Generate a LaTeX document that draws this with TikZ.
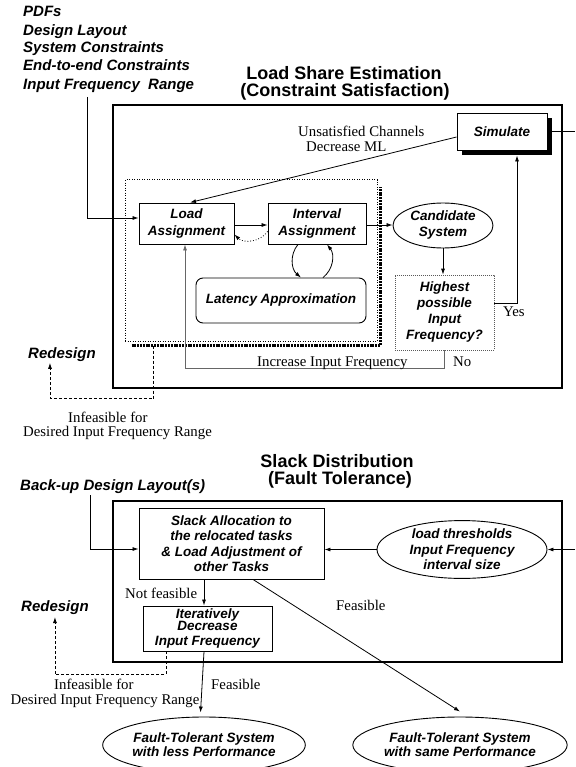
\documentclass[tikz,border=0pt]{standalone}
\usepackage{fontspec}
\setmainfont{Liberation Serif}
\setsansfont{Liberation Sans}
\usetikzlibrary{arrows.meta,shapes.geometric,shadows}

\tikzset{
  lbl/.style={font=\sffamily\bfseries\itshape\fontsize{13.5}{15.5}\selectfont, align=center, inner sep=0pt},
  big/.style={font=\sffamily\bfseries\itshape\fontsize{15}{18}\selectfont, inner sep=0pt, anchor=base west},
  ttl/.style={font=\sffamily\bfseries\fontsize{18}{18}\selectfont, inner sep=0pt, anchor=base},
  txt/.style={font=\fontsize{14.8}{15}\selectfont, inner sep=0pt, anchor=base west},
  box/.style={lbl, draw, line width=0.9pt},
  oval/.style={lbl, draw, ellipse, line width=0.9pt},
  frame/.style={draw, line width=2.6pt},
  conn/.style={line width=0.8pt},
  arr/.style={conn, -{Latex[length=6pt,width=4pt]}},
  dasharr/.style={arr, dash pattern=on 3pt off 2pt},
}

\begin{document}
\begin{tikzpicture}[x=1pt,y=-1pt]
\useasboundingbox (0,0) rectangle (575,767);

% ---------- inputs of the first stage ----------
\node[big] (in1) at (23,17) {PDFs};
\node[big] (in2) at (23,35.5) {Design Layout};
\node[big] (in3) at (23,53) {System Constraints};
\node[big] (in4) at (23,71) {End-to-end Constraints};
\node[big] (in5) at (23,90) {Input Frequency\ \ Range};
\coordinate (inp) at (87,97);

% ---------- load share estimation ----------
\node[ttl] (t1a) at (344,80) {Load Share Estimation};
\node[ttl] (t1b) at (345,96.5) {(Constraint Satisfaction)};
\draw[frame] (113,105) rectangle (562,388);

\node[box, fill=white, minimum width=90pt, minimum height=37pt,
      drop shadow={shadow xshift=5pt, shadow yshift=-5pt, fill=black, opacity=1}] (sim) at (502,131.5) {Simulate};
\coordinate (simout) at (575,131.5);

\node[txt] (uns) at (298,136.7) {Unsatisfied Channels};
\node[txt] (dml) at (306,151.7) {Decrease ML};

% iteration group with its hatched shadow
\node[draw, line width=1pt, dash pattern=on 1pt off 1.5pt, minimum width=252pt, minimum height=161pt, inner sep=0pt] (grp) at (251,260.5) {};
\draw[line width=3pt, dash pattern=on 2pt off 0.8pt]
  ([xshift=7pt,yshift=-3.5pt]grp.south west) -| ([xshift=3pt,yshift=-8pt]grp.north east);

\node[box, minimum width=95pt, minimum height=41pt] (load) at (186.5,223.5) {Load\\[1pt]Assignment};
\node[box, minimum width=98pt, minimum height=41pt] (intv) at (317,223.5) {Interval\\[1pt]Assignment};
\node[box, rounded corners=7pt, minimum width=170pt, minimum height=45pt] (lat) at (281,300.5) {Latency Approximation};
\node[oval, minimum width=100pt, minimum height=45pt] (cand) at (443,225.5) {Candidate\\[0.5pt]System};
\node[lbl, draw=black!65, line width=0.7pt, dash pattern=on 0.8pt off 1.2pt, minimum width=99pt, minimum height=75pt] (high) at (444.5,312.5) {Highest\\[0.5pt]possible\\[0.5pt]Input\\[0.5pt]Frequency?};

% connectors of the first stage
\draw[arr] (inp) |- ([yshift=5.5pt]load.west);
\draw[arr] ([yshift=-1.5pt]load.east) -- ([yshift=-1.5pt]intv.west);
\draw[arr, dotted] ([yshift=-8pt]intv.west) to[bend left=50] ([yshift=-11pt]load.east);
\draw[arr] ([xshift=-19pt]intv.south) to[bend right=45] ([xshift=20pt]lat.north);
\draw[arr] ([xshift=42pt]lat.north) to[bend right=45] ([xshift=10pt]intv.south);
\draw[arr] ([yshift=-1.5pt]intv.east) -- ([yshift=-1.5pt]intv.east -| cand.west);
\draw[arr] (cand.south) -- (cand.south |- high.north);
\draw[arr] ([yshift=9.5pt]high.east) -| ([xshift=15pt,yshift=-5pt]sim.south);
\draw[arr, draw=black!60] (high.south) -- ++(0,18) -| ([xshift=-1.5pt]load.south);
\draw[arr] ([yshift=-5.5pt]sim.west) -- ([xshift=3.5pt]load.north);
\draw[conn] (sim.east) -- (simout);

\node[txt] (yes) at (503,316) {Yes};
\node[txt] (incr) at (257,366) {Increase Input Frequency};
\node[txt] (no) at (453,366) {No};

\node[big] (red1) at (28,358) {Redesign};
\draw[dasharr] ([xshift=29pt,yshift=-4pt]grp.south west) -- ++(0,53) -| ([xshift=-12pt,yshift=-1.5pt]red1.south);
\node[txt] (inf1) at (68,422) {Infeasible for};
\node[txt] (des1) at (23,436) {Desired Input Frequency Range};

% ---------- slack distribution ----------
\node[ttl] (t2a) at (337,467) {Slack Distribution};
\node[ttl] (t2b) at (340,484.5) {(Fault Tolerance)};
\node[big] (bu) at (20,490) {Back-up Design Layout(s)};
\coordinate (bsrc) at (90,495);
\draw[frame] (113,501) rectangle (562,662);

\node[box, minimum width=185pt, minimum height=71pt] (slack) at (231.5,543.5)
  {Slack Allocation to\\the relocated tasks\\\& Load Adjustment of\\other Tasks};
\node[oval, minimum width=170pt, minimum height=55pt] (thr) at (462,549.5)
  {load thresholds\\Input Frequency\\interval size};
\coordinate (thrsrc) at (575,549.5);
\node[box, minimum width=129pt, minimum height=45pt] (iter) at (207.5,628.5)
  {Iteratively\\[-2.8pt]Decrease\\[-0.5pt]Input Frequency};

\node[oval, minimum width=166pt, minimum height=56pt] (ftl) at (204,745)
  {Fault-Tolerant System\\[-1.5pt]with less Performance};
\node[oval, minimum width=166pt, minimum height=56pt] (fts) at (460,745)
  {Fault-Tolerant System\\[-1.5pt]with same Performance};

\draw[arr] (bsrc) |- ([yshift=-5.5pt]slack.west);
\draw[arr] (thr.west) -- (thr.west -| slack.east);
\draw[arr] (thrsrc) -- (thr.east);
\draw[arr] ([xshift=-3.5pt]iter.north |- slack.south) -- ([xshift=-3.5pt]iter.north);
\draw[arr] ([xshift=-3.5pt]iter.south) -- ([xshift=-3.5pt,yshift=4pt]ftl.north);
\draw[arr] ([xshift=21.5pt]slack.south) -- ([yshift=5pt]fts.north);

\node[txt] (nf) at (125,598) {Not feasible};
\node[txt] (fe1) at (336,610) {Feasible};
\node[txt] (fe2) at (211,689) {Feasible};

\node[big] (red2) at (21,611.7) {Redesign};
\draw[dasharr] ([xshift=-41.5pt]iter.south) -- ++(0,23) -| ([yshift=-2pt]red2.south);
\node[txt] (inf2) at (54,689) {Infeasible for};
\node[txt] (des2) at (10.5,704) {Desired Input Frequency Range};
\end{tikzpicture}
\end{document}
